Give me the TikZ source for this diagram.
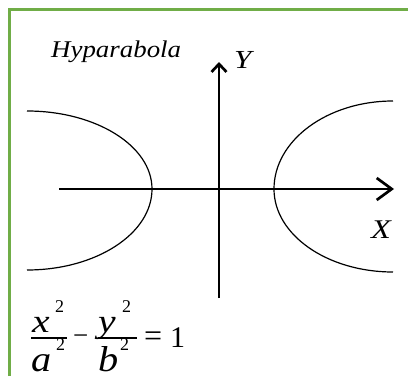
\documentclass[tikz,border=0pt]{standalone}
\usepackage{fontspec}
\setmainfont{Liberation Serif}
\newfontfamily\tnr{Liberation Serif}
\usetikzlibrary{arrows.meta}
\definecolor{bordergreen}{RGB}{112,173,71}
\tikzset{
  axisline/.style={line width=2.7pt},
  curveline/.style={line width=1.2pt},
  txt/.style={inner sep=0pt, anchor=base west},
  barline/.style={line width=1.3pt},
}
\newcommand{\fs}[1]{\tnr\fontsize{#1}{#1}\selectfont}
\newcommand{\wide}[2]{\scalebox{#1}[1]{#2}}
\begin{document}
\begin{tikzpicture}[x=1pt,y=1pt]
\useasboundingbox (0,0) rectangle (408,376);
\fill[white] (0,0) rectangle (408,376);
\draw[bordergreen, line width=3pt] (9.5,0) -- (9.5,366.5) -- (408,366.5);
% axes
\coordinate (xs) at (59,187);
\coordinate (xe) at (394,187);
\coordinate (ys) at (219,78);
\coordinate (ye) at (219,314);
\draw[axisline, -{Straight Barb[length=15pt,width=22pt]}] (xs) -- (xe);
\draw[axisline, -{Straight Barb[length=8pt,width=15pt]}] (ys) -- (ye);
% branches
\draw[curveline] (27,265) arc[start angle=90,end angle=0,x radius=125pt,y radius=78pt]
                 arc[start angle=0,end angle=-90,x radius=125pt,y radius=81pt];
\draw[curveline] (393,275) arc[start angle=90,end angle=180,x radius=119pt,y radius=88pt]
                 arc[start angle=180,end angle=270,x radius=119pt,y radius=83pt];
% labels
\node[txt, font=\fs{24}\itshape] (title) at (51,318.7) {\wide{1.12}{Hyparabola}};
\node[txt, font=\fs{26}\itshape] (ylab) at (234,307.5) {\wide{1.2}{Y}};
\node[txt, font=\fs{27}\itshape] (xlab) at (371,138) {\wide{1.2}{X}};
% equation
\node[txt, font=\fs{33}\itshape] (n1) at (32,44) {\wide{1.2}{x}};
\node[txt, font=\fs{18}] (n1s) at (55,64) {2};
\node[txt, font=\fs{36}\itshape] (d1) at (31,4.5) {\wide{1.12}{a}};
\node[txt, font=\fs{18}] (d1s) at (56,26) {2};
\draw[barline] (31,38) -- (67,38);
\node[txt, font=\fs{27}] (minus) at (73,31.5) {−};
\node[txt, font=\fs{33}\itshape] (n2) at (98,44) {\wide{1.2}{y}};
\node[txt, font=\fs{18}] (n2s) at (122,64) {2};
\node[txt, font=\fs{36}\itshape] (d2) at (98,4.5) {\wide{1.12}{b}};
\node[txt, font=\fs{18}] (d2s) at (120,26) {2};
\draw[barline] (98,38) -- (137,38);
\node[txt, font=\fs{32}] (eq) at (144,29.3) {=};
\node[txt, font=\fs{30}] (one) at (170,29) {1};
\end{tikzpicture}
\end{document}
